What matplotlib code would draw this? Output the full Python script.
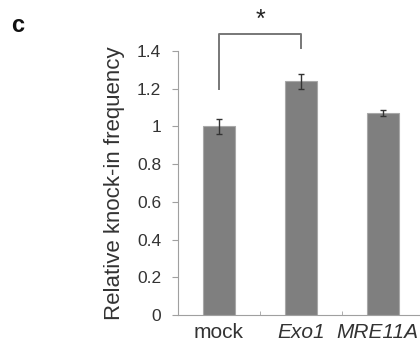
import numpy as np
import matplotlib
matplotlib.use("Agg")
import matplotlib.pyplot as plt
import matplotlib.transforms as mtransforms

# --- donnees ---
categories = ["mock", "Exo1", "MRE11A"]
italic = [False, True, True]
values = [1.00, 1.24, 1.07]
errors = [0.04, 0.04, 0.015]
yticks = [0, 0.2, 0.4, 0.6, 0.8, 1.0, 1.2, 1.4]
ytick_labels = ["0", "0.2", "0.4", "0.6", "0.8", "1", "1.2", "1.4"]
ylabel = "Relative knock-in frequency"
# ----------------------------------

plt.rcParams["font.family"] = ["Liberation Sans", "DejaVu Sans"]
txt = "#333333"
axc = "#a0a0a0"

fig = plt.figure(figsize=(4.2, 3.48), dpi=100)
ax = fig.add_axes([178 / 420, 1 - 315 / 348, 246 / 420, 264 / 348])

x = np.arange(len(categories)) + 0.5
ax.bar(x, values, width=0.4, color="#7f7f7f", edgecolor="#a8a8a8", linewidth=0.8, zorder=2)
ax.errorbar(x, values, yerr=errors, fmt="none", ecolor="#333333",
            elinewidth=1.0, capsize=2.5, capthick=1.0, zorder=3)

ax.set_xlim(0, 3)
ax.set_ylim(0, 1.4)
ax.set_yticks(yticks)
ax.set_yticklabels(ytick_labels, fontsize=12.5, color=txt)
ax.set_ylabel(ylabel, fontsize=16, color=txt, labelpad=9)

# libelles des categories dessines a la main (le dernier decale a gauche)
ax.set_xticks([])
ax.set_xticks([1, 2], minor=True)
ax.tick_params(axis="x", which="minor", direction="in", length=3, color=axc,
               labelbottom=False)
base = ax.get_xaxis_transform()
for i, (xi, cat, it) in enumerate(zip(x, categories, italic)):
    dx = -6 if i == len(categories) - 1 else 0
    tr = mtransforms.offset_copy(base, fig=fig, x=dx, y=-8, units="dots")
    ax.text(xi, 0, cat, transform=tr, ha="center", va="top", fontsize=15,
            color=txt, fontstyle="italic" if it else "normal", clip_on=False)
ax.tick_params(axis="y", length=4, color=axc, pad=8)

for s in ["top", "right"]:
    ax.spines[s].set_visible(False)
ax.spines["left"].set_color(axc)
ax.spines["bottom"].set_color(axc)

# crochet de significativite
ax.plot([x[0], x[0], x[1], x[1]], [1.2, 1.49, 1.49, 1.415],
        color="#777777", linewidth=1.4, clip_on=False)
ax.text((x[0] + x[1]) / 2, 1.50, "*", ha="center", va="bottom",
        fontsize=18, color="#222222", clip_on=False)

fig.text(18 / 420, 1 - 26 / 348, "c", fontsize=17, fontweight="bold",
         ha="center", va="center", color="#111111")

fig.savefig("out.png", dpi=100)
